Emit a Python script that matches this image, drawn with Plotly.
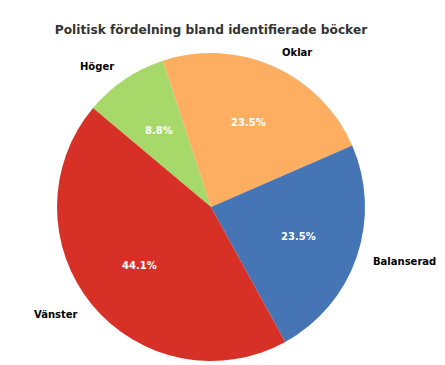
import numpy as np
import plotly.graph_objects as go

labels = ["Höger", "Oklar", "Balanserad", "Vänster"]
counts = [3, 8, 8, 15]
colors = ["#a6d96a", "#fdae61", "#4575b4", "#d73027"]
title = "Politisk fördelning bland identifierade böcker"

W, H = 445, 365
cx, cy_top, R = 211, 207, 154
cy = H - cy_top
start_deg = 140

fig = go.Figure(go.Pie(
    labels=labels, values=counts, sort=False,
    direction="clockwise", rotation=90 - start_deg,
    marker=dict(colors=colors, line=dict(width=0)),
    textinfo="none", hoverinfo="label+percent",
    domain=dict(x=[(cx - R) / W, (cx + R) / W], y=[(cy - R) / H, (cy + R) / H]),
    showlegend=False,
))

vals = np.array(counts, dtype=float)
frac = vals / vals.sum()
cum = np.cumsum(frac) - frac / 2
mid = np.deg2rad(start_deg - cum * 360)
annotations = []
for lab, f, a in zip(labels, frac, mid):
    px, py = cx + 0.6 * R * np.cos(a), cy + 0.6 * R * np.sin(a)
    annotations.append(dict(x=px / W, y=py / H, xref="paper", yref="paper",
                            text=f"{f*100:.1f}%", showarrow=False,
                            xanchor="center", yanchor="middle",
                            font=dict(family="DejaVu Sans", size=10, color="white", weight="bold")))
    lx, ly = cx + 1.1 * R * np.cos(a), cy + 1.1 * R * np.sin(a)
    annotations.append(dict(x=lx / W, y=ly / H, xref="paper", yref="paper",
                            text=lab, showarrow=False,
                            xanchor="left" if np.cos(a) >= 0 else "right", yanchor="middle",
                            font=dict(family="DejaVu Sans", size=10, color="black", weight="bold")))

fig.update_layout(
    width=W, height=H,
    margin=dict(l=0, r=0, t=0, b=0),
    paper_bgcolor="white", plot_bgcolor="white",
    title=dict(text=title, x=211 / W, xanchor="center", y=1 - 30 / H, yanchor="middle",
               font=dict(family="DejaVu Sans", size=12.2, color="#333333", weight="bold")),
    annotations=annotations,
)
fig.write_html("out.html", config={"displayModeBar": False},
               post_script="document.body.style.margin='0';document.body.style.padding='0';")
